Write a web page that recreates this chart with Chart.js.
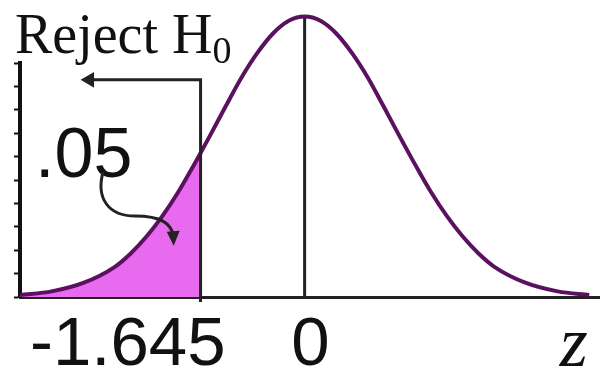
<!DOCTYPE html>
<html>
<head>
<meta charset="utf-8">
<script src="https://cdn.jsdelivr.net/npm/chart.js@4/dist/chart.umd.min.js"></script>
<style>
  html, body { margin: 0; padding: 0; background: #fff; }
  #wrap { width: 600px; height: 370px; }
</style>
</head>
<body>
<div id="wrap"><canvas id="chart"></canvas></div>
<script>
// z positions along the axis and curve height
const zValues = [-4.5, -4, -3.5, -3, -2.75, -2.5, -2.25, -2, -1.75, -1.645, -1.5, -1.25, -1, -0.75, -0.5, -0.25,
  0, 0.25, 0.5, 0.75, 1, 1.25, 1.5, 1.75, 2, 2.25, 2.5, 2.75, 3, 3.5, 4, 4.5];
const density = [0.003, 0.008, 0.020, 0.043, 0.062, 0.086, 0.115, 0.149, 0.188, 0.205, 0.229, 0.271, 0.312, 0.347, 0.375, 0.393,
  0.399, 0.393, 0.375, 0.347, 0.312, 0.271, 0.229, 0.188, 0.149, 0.115, 0.086, 0.062, 0.043, 0.020, 0.008, 0.003];

const critical = -1.645;   // left edge of the rejection region
const peakZ = 0;
const rejectTop = 0.309;   // height where the "Reject" arrow runs
const arrowEnd = -3.4;     // end of the left arrow

// axis ticks
const tickValues = [-1.645, 0, 4.08];
const tickLabels = ["-1.645", "0", "z"];

const curve = zValues.map((z, i) => ({ x: z, y: density[i] }));
const tail = curve.filter(p => p.x <= critical);

// text + curved arrow on top of the chart
const notes = {
  id: "notes",
  afterDraw(chart) {
    const ctx = chart.ctx;
    const xs = chart.scales.x, ys = chart.scales.y;
    ctx.save();
    ctx.fillStyle = "#111";
    ctx.textBaseline = "alphabetic";
    ctx.font = "56px 'Liberation Serif'";
    ctx.fillText("Reject H", 15, 53);
    const w = ctx.measureText("Reject H").width;
    ctx.font = "38px 'Liberation Serif'";
    ctx.fillText("0", 15 + w, 63);

    ctx.font = "70px 'Liberation Sans'";
    ctx.fillText(".05", 35, 177);

    // curved pointer from the label into the shaded tail
    const tipX = xs.getPixelForValue(-2.07);
    const tipY = ys.getPixelForValue(0.073);
    ctx.strokeStyle = "#222";
    ctx.lineWidth = 3;
    ctx.beginPath();
    ctx.moveTo(103, 172);
    ctx.bezierCurveTo(96, 198, 108, 216, 135, 216);
    ctx.bezierCurveTo(162, 216, tipX - 3, tipY - 22, tipX, tipY - 10);
    ctx.stroke();
    ctx.fillStyle = "#222";
    ctx.beginPath();
    ctx.moveTo(tipX, tipY);
    ctx.lineTo(tipX - 7, tipY - 14);
    ctx.lineTo(tipX + 6, tipY - 15);
    ctx.closePath();
    ctx.fill();
    ctx.restore();
  }
};

new Chart(document.getElementById("chart"), {
  type: "scatter",
  data: {
    datasets: [
      {
        data: tail,
        showLine: true,
        fill: "origin",
        backgroundColor: "#e86aee",
        borderWidth: 0,
        pointRadius: 0,
        clip: false,
        order: 3
      },
      {
        data: curve,
        showLine: true,
        borderColor: "#5a1260",
        borderWidth: 4,
        cubicInterpolationMode: "monotone",
        pointRadius: 0,
        clip: false,
        order: 1
      },
      {
        data: [{ x: peakZ, y: 0 }, { x: peakZ, y: 0.399 }],
        showLine: true,
        borderColor: "#222",
        borderWidth: 3,
        pointRadius: 0,
        clip: false,
        order: 2
      },
      {
        data: [{ x: critical, y: 0 }, { x: critical, y: rejectTop }, { x: arrowEnd, y: rejectTop }],
        showLine: true,
        borderColor: "#222",
        borderWidth: 3,
        pointRadius: [0, 0, 9],
        pointStyle: "triangle",
        rotation: 270,
        pointBackgroundColor: "#222",
        pointBorderWidth: 0,
        clip: false,
        order: 0
      }
    ]
  },
  options: {
    responsive: true,
    maintainAspectRatio: false,
    animation: false,
    layout: { autoPadding: false, padding: { left: 14, top: 63, right: 0, bottom: 0 } },
    plugins: { legend: { display: false }, tooltip: { enabled: false } },
    scales: {
      x: {
        type: "linear",
        min: -4.5,
        max: 4.67,
        border: { color: "#222", width: 3 },
        grid: {
          drawOnChartArea: false,
          tickLength: 5,
          tickWidth: 3,
          tickColor: c => (c.tick && c.tick.value === critical ? "#222" : "rgba(0,0,0,0)")
        },
        afterBuildTicks: s => { s.ticks = tickValues.map(v => ({ value: v })); },
        afterFit: s => { s.height = 73; s.paddingLeft = 0; s.paddingRight = 0; },
        ticks: {
          padding: 9,
          align: "end",
          labelOffset: 25,
          maxRotation: 0,
          minRotation: 0,
          autoSkip: false,
          color: "#111",
          callback: v => tickLabels[tickValues.indexOf(v)],
          font: c => (c.tick && c.tick.value === 4.08
            ? { family: "'Liberation Serif'", size: 72, style: "italic", lineHeight: 1 }
            : { family: "'Liberation Sans'", size: 69, lineHeight: 1 })
        }
      },
      y: {
        min: 0,
        max: 0.333,
        border: { color: "#111", width: 4 },
        grid: { drawOnChartArea: false, tickLength: 6, tickWidth: 2, tickColor: "#111" },
        afterFit: s => { s.width = 6; },
        ticks: { display: false, count: 11 }
      }
    }
  },
  plugins: [notes]
});
</script>
</body>
</html>
